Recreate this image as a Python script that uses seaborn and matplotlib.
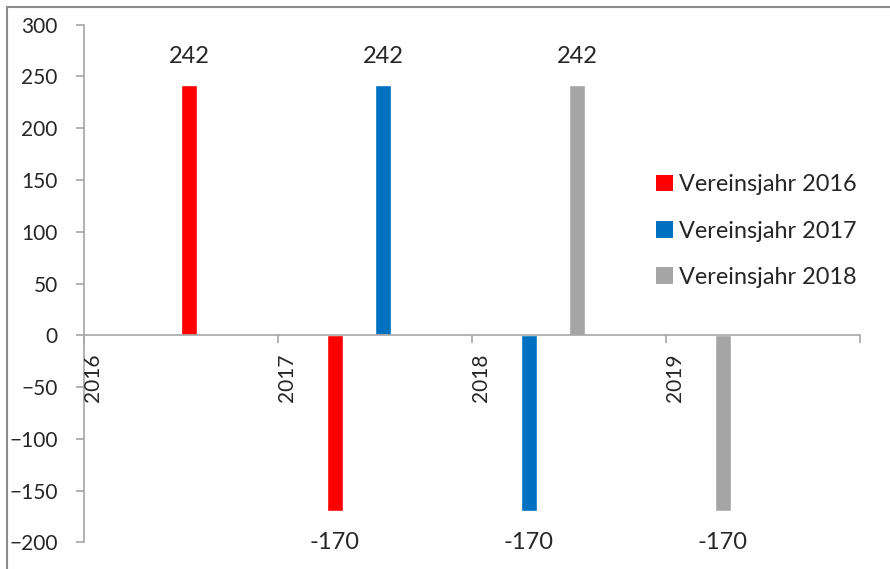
import matplotlib
matplotlib.use("Agg")
import matplotlib.pyplot as plt
import matplotlib.transforms as mtransforms
from matplotlib.lines import Line2D
from matplotlib.patches import Patch
import seaborn as sns
import pandas as pd

# ---- data ----
series = ["Vereinsjahr 2016", "Vereinsjahr 2016",
          "Vereinsjahr 2017", "Vereinsjahr 2017",
          "Vereinsjahr 2018", "Vereinsjahr 2018"]
months = ["2016-07", "2017-04", "2017-07", "2018-04", "2018-07", "2019-04"]
values = [242, -170, 242, -170, 242, -170]
legend_labels = ["Vereinsjahr 2016", "Vereinsjahr 2017", "Vereinsjahr 2018"]
colors = ["#FF0000", "#0070C0", "#A5A5A5"]
year_ticks = [2016, 2017, 2018, 2019, 2020]
year_labels = ["2016", "2017", "2018", "2019", ""]

# month -> decimal year (center of month)
xpos = [int(m[:4]) + (int(m[5:]) - 0.5) / 12 for m in months]
df = pd.DataFrame({"x": xpos, "value": values, "series": series})

sns.set_style("white")
plt.rcParams["font.family"] = ["Lato", "DejaVu Sans"]

fig = plt.figure(figsize=(8.9, 5.69), dpi=100)
ax = fig.add_axes([84 / 890, 1 - 542.3 / 569, (860 - 84) / 890, (542.3 - 24.7) / 569])

palette = dict(zip(legend_labels, colors))
min_step = 0.25
sns.barplot(data=df, x="x", y="value", hue="series", palette=palette,
            native_scale=True, dodge=False, width=(1 / 12) / min_step,
            legend=False, saturation=1, ax=ax, errorbar=None)

ax.set_xlim(2016, 2020)
ax.set_ylim(-200, 300)
ax.set_yticks(range(-200, 301, 50))
ax.set_xticks(year_ticks)
ax.set_xticklabels([])
ax.set_xlabel("")
ax.set_ylabel("")

axis_color = "#A6A6A6"
for s in ["top", "right"]:
    ax.spines[s].set_visible(False)
ax.spines["left"].set_color(axis_color)
ax.spines["left"].set_linewidth(1.2)
ax.spines["bottom"].set_position(("data", 0))
ax.spines["bottom"].set_color(axis_color)
ax.spines["bottom"].set_linewidth(1.2)

ax.tick_params(axis="y", direction="out", length=6, width=1.2, color=axis_color,
               pad=13, labelsize=15, left=True)
ax.tick_params(axis="x", direction="out", length=6, width=1.2, color=axis_color,
               bottom=True)

offset = mtransforms.ScaledTranslation(8.5 / 100, -18 / 100, fig.dpi_scale_trans)
for yr, lab in zip(year_ticks, year_labels):
    if lab:
        ax.text(yr, 0, lab, rotation=90, ha="center", va="top", fontsize=15,
                transform=ax.transData + offset)

for x, v in zip(xpos, values):
    if v >= 0:
        ax.annotate(str(v), (x, v), xytext=(0, 13), textcoords="offset points",
                    ha="center", va="bottom", fontsize=17)
    else:
        ax.annotate(str(v), (x, v), xytext=(0, -15), textcoords="offset points",
                    ha="center", va="top", fontsize=17)

handles = [Patch(facecolor=c, edgecolor="none") for c in colors]
leg = ax.legend(handles, legend_labels, loc="center left",
                frameon=False, fontsize=16.9, handlelength=0.72, handleheight=0.72,
                handletextpad=0.25, labelspacing=1.08, borderaxespad=0,
                borderpad=0)
leg.set_bbox_to_anchor((656 / 890, 1 - 231 / 569), transform=fig.transFigure)

fig.add_artist(Line2D([7 / 890, 1], [1 - 7 / 569, 1 - 7 / 569],
                      transform=fig.transFigure, color="#8C8C8C", lw=1.5))
fig.add_artist(Line2D([7 / 890, 7 / 890], [0, 1 - 7 / 569],
                      transform=fig.transFigure, color="#8C8C8C", lw=1.5))

fig.savefig("out.png", dpi=100)
